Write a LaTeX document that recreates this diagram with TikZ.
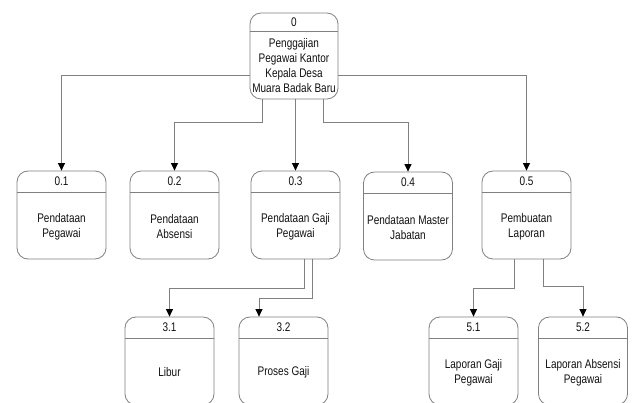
\documentclass[tikz,border=0pt]{standalone}
\usepackage{fontspec}
\setmainfont[FakeStretch=0.8]{Liberation Sans}
\usetikzlibrary{arrows.meta}
\definecolor{linegray}{HTML}{808080}
\definecolor{txt}{HTML}{111111}
\tikzset{
  procbox/.style={draw=linegray, line width=0.8pt, rounded corners=11pt, minimum width=89pt, minimum height=88pt, inner sep=0pt},
  bigbox/.style={draw=linegray, line width=0.8pt, rounded corners=11pt, minimum width=88pt, minimum height=86pt, inner sep=0pt},
  divline/.style={draw=linegray, line width=0.8pt},
  ttl/.style={text=txt, font=\fontsize{12.5}{15}\selectfont, inner sep=0pt},
  body/.style={text=txt, font=\fontsize{12.5}{15}\selectfont, align=center, inner sep=0pt},
  arr/.style={draw=linegray, line width=0.8pt, -{Triangle[length=7.5pt,width=7pt,black]}},
}
\newcommand{\procnode}[5]{%
  % #1 name, #2 x, #3 y (center), #4 number, #5 text
  \node[procbox] (#1) at (#2,#3) {};
  \draw[divline] ([yshift=-22pt]#1.north west) -- ([yshift=-22pt]#1.north east);
  \node[ttl] (#1n) at ([yshift=-11pt]#1.north) {#4};
  \node[body] (#1t) at ([yshift=33pt]#1.south) {#5};
}
\begin{document}
\begin{tikzpicture}[x=1pt,y=-1pt]
\useasboundingbox (0,0) rectangle (632,403);
\clip (0,0) rectangle (632,403);
% top node
\node[bigbox] (b0) at (294,56) {};
\draw[divline] ([yshift=-19pt]b0.north west) -- ([yshift=-19pt]b0.north east);
\node[ttl] (b0n) at ([yshift=-9.5pt]b0.north) {0};
\node[body] (b0t) at ([yshift=33.5pt]b0.south) {Penggajian\\Pegawai Kantor\\Kepala Desa\\Muara Badak Baru};
% level 1
\procnode{b01}{61.5}{215}{0.1}{Pendataan\\Pegawai}
\procnode{b02}{174.5}{215}{0.2}{Pendataan\\Absensi}
\procnode{b03}{295.5}{215}{0.3}{Pendataan Gaji\\Pegawai}
\procnode{b04}{408}{216}{0.4}{Pendataan Master\\Jabatan}
\procnode{b05}{526.5}{215}{0.5}{Pembuatan\\Laporan}
% level 2
\procnode{b31}{169.5}{361}{3.1}{Libur}
\procnode{b32}{283.5}{361}{3.2}{Proses Gaji}
\procnode{b51}{473.5}{361}{5.1}{Laporan Gaji\\Pegawai}
\procnode{b52}{583}{361}{5.2}{Laporan Absensi\\Pegawai}
% connectors from 0
\draw[arr] ([yshift=-19pt]b0.west) -| (b01.north);
\draw[arr] ([yshift=-19pt]b0.east) -| (b05.north);
\draw[arr] ([xshift=-32pt]b0.south) -- ++(0,23) -| (b02.north);
\draw[arr] (b03.north |- b0.south) -- (b03.north);
\draw[arr] ([xshift=29pt]b0.south) -- ++(0,23) -| (b04.north);
% connectors from 0.3
\draw[arr] ([xshift=8.5pt]b03.south) -- ++(0,29) -| (b31.north);
\draw[arr] ([xshift=16.5pt]b03.south) -- ++(0,39) -| ([xshift=-24.5pt]b32.north);
% connectors from 0.5
\draw[arr] ([xshift=-12.5pt]b05.south) -- ++(0,29) -| (b51.north);
\draw[arr] ([xshift=16.5pt]b05.south) -- ++(0,27) -| (b52.north);
\end{tikzpicture}
\end{document}
